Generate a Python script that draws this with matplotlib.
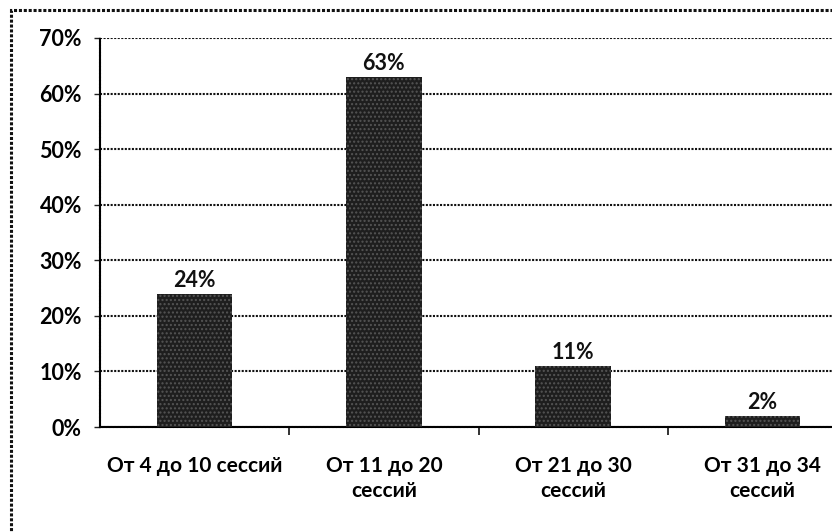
import matplotlib
matplotlib.use("Agg")
import matplotlib.pyplot as plt
from matplotlib.patches import Rectangle
import numpy as np

categories = ["От 4 до 10 сессий", "От 11 до 20\nсессий", "От 21 до 30\nсессий", "От 31 до 34\nсессий"]
values = [24, 63, 11, 2]
y_ticks = [0, 10, 20, 30, 40, 50, 60, 70]

plt.rcParams['font.family'] = ['Lato', 'DejaVu Sans']

fig = plt.figure(figsize=(8.32, 5.32), dpi=100)
fig.patch.set_facecolor("white")

# outer chart frame
fig.patches.append(Rectangle((11 / 832, -0.05), 1.2, (532 - 10) / 532 + 0.05,
                             transform=fig.transFigure, fill=False,
                             edgecolor="#111111", linewidth=2.2, linestyle=(0, (1, 0.6))))

ax = fig.add_axes([100 / 832, (532 - 427) / 532, 757 / 832, (427 - 38) / 532])
x = np.arange(len(categories))
ax.bar(x, values, width=0.4, color="#1e1e1e", edgecolor="#555555", hatch="....",
       linewidth=0, zorder=3)

for xi, v in zip(x, values):
    ax.annotate(f"{v}%", (xi, v), xytext=(0, 2), textcoords="offset points",
                ha="center", va="bottom", fontsize=15.5, fontweight="bold", color="#111111")

ax.set_xlim(-0.5, len(categories) - 0.5)
ax.set_ylim(0, 70)
ax.set_yticks(y_ticks)
ax.set_yticklabels([f"{t}%" for t in y_ticks], fontsize=15.5, fontweight="bold")
ax.set_xticks(x)
ax.set_xticklabels(categories, fontsize=15, fontweight="bold", linespacing=1.3)
ax.set_xticks(np.arange(0.5, len(categories) - 0.5, 1), minor=True)
ax.tick_params(axis="x", which="major", length=0, pad=21)
ax.tick_params(axis="x", which="minor", length=6, width=1.3, direction="out", color="#222222")
ax.tick_params(axis="y", length=4, width=1.0, direction="out", pad=9, color="#222222")

ax.yaxis.grid(True, color="#111111", linestyle=(0, (1, 0.7)), linewidth=1.5, zorder=0)
ax.set_axisbelow(True)
for side in ["top", "right"]:
    ax.spines[side].set_visible(False)
ax.spines["left"].set_linestyle((0, (1, 0.7)))
ax.spines["left"].set_linewidth(1.5)
ax.spines["bottom"].set_linestyle((0, (1, 0.7)))
ax.spines["bottom"].set_linewidth(1.5)

fig.savefig("out.png", dpi=100, facecolor="white")
